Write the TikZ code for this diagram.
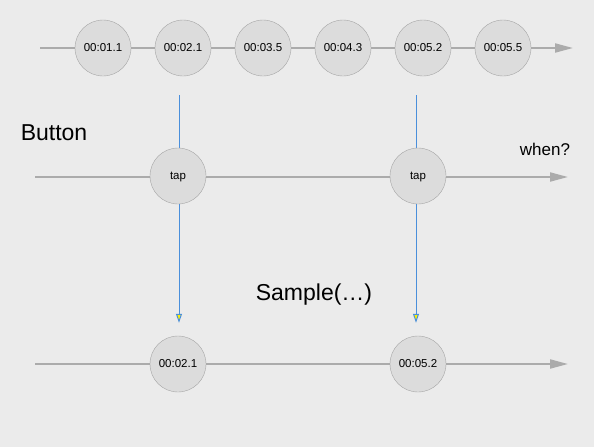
\documentclass[tikz,border=0pt]{standalone}
\usepackage{fontspec}
\setmainfont{Liberation Sans}
\usetikzlibrary{arrows.meta,positioning}
\definecolor{bg}{HTML}{EBEBEB}
\definecolor{marblefill}{HTML}{DCDCDC}
\definecolor{marbleedge}{HTML}{A6A6A6}
\definecolor{axisgray}{HTML}{ABABAB}
\definecolor{pickblue}{HTML}{4A8FDB}
\begin{document}
\begin{tikzpicture}[x=1pt,y=-1pt,
    marble/.style={circle,draw=marbleedge,fill=marblefill,minimum size=56pt,inner sep=0pt,font=\fontsize{11.5}{13}\selectfont},
    axis/.style={draw=axisgray,line width=2pt,-{Triangle[length=18pt,width=9pt]}},
    pick/.style={draw=pickblue,line width=1pt,shorten >=13pt,-{Triangle[length=9pt,width=6pt,fill=yellow]}}]
    \fill[bg] (0,0) rectangle (594,447);
    % source stream
    \coordinate (src start) at (40,48);
    \coordinate (src end) at (573,48);
    \draw[axis] (src start) -- (src end);
    \foreach \t [count=\i] in {00:01.1,00:02.1,00:03.5,00:04.3,00:05.2,00:05.5}
      \node[marble] (t\i) at ({23+80*\i},48) {\t};
    % button stream
    \coordinate (btn start) at (35,177);
    \coordinate (btn end) at (568,177);
    \draw[axis] (btn start) -- (btn end);
    \node[font=\fontsize{23}{25}\selectfont] (button) at (54,133) {Button};
    \node[font=\fontsize{17}{19}\selectfont] (when) at (545,149) {when?};
    % result stream
    \coordinate (res start) at (35,364);
    \coordinate (res end) at (568,364);
    \draw[axis] (res start) -- (res end);
    \node[marble] (out1) at (178,364) {00:02.1};
    \node[marble] (out2) at (418,364) {00:05.2};
    \node[font=\fontsize{23}{25}\selectfont] (sample) at (314,295) {Sample(…)};
    % sampling
    \coordinate (s1) at (179,95);
    \coordinate (s2) at (416,95);
    \draw[pick] (s1) -- (s1 |- out1.north);
    \draw[pick] (s2) -- (s2 |- out2.north);
    \node[marble,text depth=0pt] (tap1) at (178,176) {tap};
    \node[marble,text depth=0pt] (tap2) at (418,176) {tap};
\end{tikzpicture}
\end{document}
